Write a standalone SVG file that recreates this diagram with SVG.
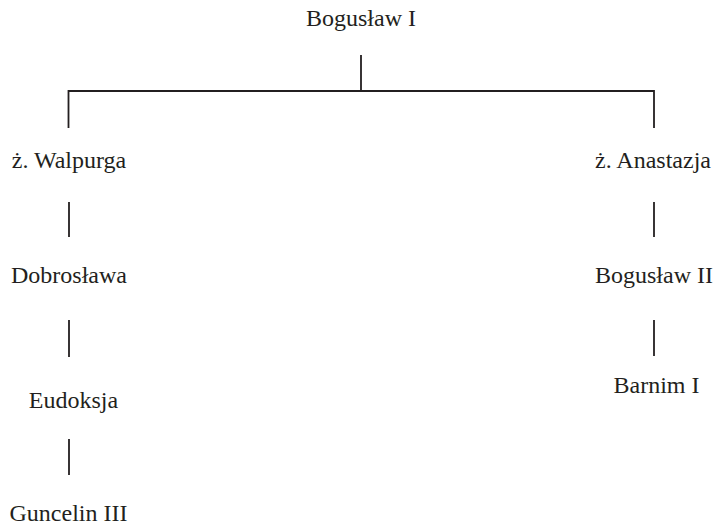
<svg xmlns="http://www.w3.org/2000/svg" width="714" height="526" viewBox="0 0 714 526">
  <style>
    .name { font-family: 'Liberation Serif', 'DejaVu Serif', serif; font-size: 24px; fill: #231f20; text-anchor: middle; }
    .link { stroke: #231f20; stroke-width: 1.8; fill: none; stroke-linecap: butt; }
  </style>
  <rect width="714" height="526" fill="#ffffff"/>

  <g id="connectors">
    <line class="link" x1="361" y1="55" x2="361" y2="91"/>
    <polyline class="link" points="68.5,128 68.5,91 654,91 654,128"/>
    <line class="link" x1="69" y1="202" x2="69" y2="237"/>
    <line class="link" x1="69" y1="320" x2="69" y2="357"/>
    <line class="link" x1="69" y1="439" x2="69" y2="475"/>
    <line class="link" x1="654" y1="202" x2="654" y2="237"/>
    <line class="link" x1="654" y1="320" x2="654" y2="356"/>
  </g>

  <g id="boguslaw1"><text class="name" x="361" y="26" font-family="Liberation Serif, serif">Bogusław I</text></g>
  <g id="walpurga"><text class="name" x="69" y="168" font-family="Liberation Serif, serif">ż. Walpurga</text></g>
  <g id="dobroslawa"><text class="name" x="69" y="283" font-family="Liberation Serif, serif">Dobrosława</text></g>
  <g id="eudoksja"><text class="name" x="73.5" y="408" font-family="Liberation Serif, serif">Eudoksja</text></g>
  <g id="guncelin3"><text class="name" x="68.5" y="521" font-family="Liberation Serif, serif">Guncelin III</text></g>
  <g id="anastazja"><text class="name" x="653" y="168" font-family="Liberation Serif, serif">ż. Anastazja</text></g>
  <g id="boguslaw2"><text class="name" x="654" y="283" font-family="Liberation Serif, serif">Bogusław II</text></g>
  <g id="barnim1"><text class="name" x="656.5" y="393" font-family="Liberation Serif, serif">Barnim I</text></g>
</svg>
